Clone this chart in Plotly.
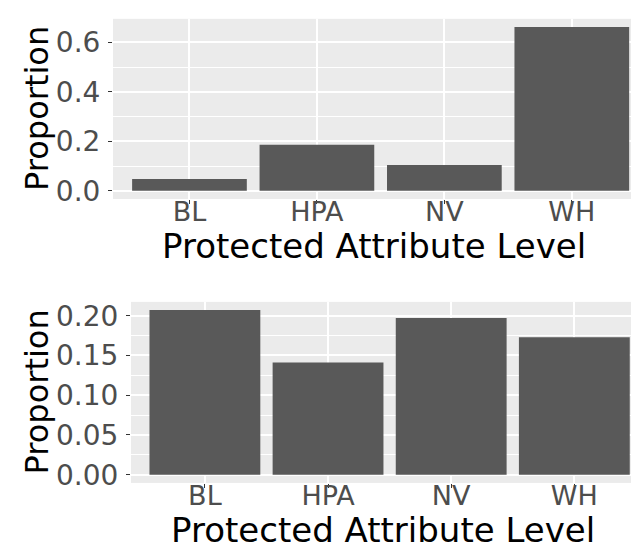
import plotly.graph_objects as go
from plotly.subplots import make_subplots

# Protected attribute levels
categories = ['BL', 'HPA', 'NV', 'WH']

# Proportions, top panel and bottom panel
top_values = [0.048, 0.186, 0.104, 0.662]
bottom_values = [0.207, 0.141, 0.197, 0.173]

x_title = 'Protected Attribute Level'
y_title = 'Proportion'

W, H = 639, 550
FONT = 'DejaVu Sans'
BAR_COLOR = '#595959'
PANEL_BG = '#EBEBEB'


def gg_range(values):
    # ggplot default: 5% expansion of the data span (which starts at 0)
    top = max(values)
    return [-0.05 * top, 1.05 * top]


fig = make_subplots(rows=2, cols=1)

fig.add_trace(go.Bar(x=categories, y=top_values, marker_color=BAR_COLOR,
                     marker_line_width=0, width=0.9), row=1, col=1)
fig.add_trace(go.Bar(x=categories, y=bottom_values, marker_color=BAR_COLOR,
                     marker_line_width=0, width=0.9), row=2, col=1)

# panel positions in pixels (left, top, bottom)
panels = [(105, 9.0, 192.5), (123, 297.3, 481.7)]

axis_common = dict(
    showgrid=True, gridcolor='white', gridwidth=1.5,
    ticks='outside', ticklen=4, tickwidth=1, tickcolor='#333333',
    tickfont=dict(family=FONT, size=27, color='#4D4D4D'),
    zeroline=False, showline=False, fixedrange=True,
)

for i, (left, top, bottom) in enumerate(panels, start=1):
    fig.update_xaxes(axis_common, row=i, col=1,
                     domain=[left / W, 1.0], range=[-0.6, 3.59],
                     ticklabelstandoff=-15)
    fig.update_yaxes(axis_common, row=i, col=1,
                     domain=[1 - bottom / H, 1 - top / H],
                     tickfont_size=28, ticklabelstandoff=2)

fig.update_yaxes(row=1, col=1, range=gg_range(top_values), tickvals=[0, 0.2, 0.4, 0.6],
                 tickformat='.1f',
                 minor=dict(tickvals=[0.1, 0.3, 0.5], showgrid=True,
                            gridcolor='white', gridwidth=0.7))
fig.update_yaxes(row=2, col=1, range=gg_range(bottom_values),
                 tickvals=[0, 0.05, 0.1, 0.15, 0.2], tickformat='.2f',
                 minor=dict(tickvals=[0.025, 0.075, 0.125, 0.175], showgrid=True,
                            gridcolor='white', gridwidth=0.7))

# axis titles as annotations so they sit where the original puts them
for left, top, bottom in panels:
    fig.add_annotation(text=x_title, xref='paper', yref='paper',
                       x=((left + W) / 2 - 6) / W, y=1 - (bottom + 48) / H,
                       xanchor='center', yanchor='middle', showarrow=False,
                       font=dict(family=FONT, size=34, color='black'))
    fig.add_annotation(text=y_title, xref='paper', yref='paper',
                       x=29 / W, y=1 - ((top + bottom) / 2) / H,
                       xanchor='center', yanchor='middle', showarrow=False,
                       textangle=-90,
                       font=dict(family=FONT, size=32, color='black'))

fig.update_layout(
    width=W, height=H,
    margin=dict(l=0, r=0, t=0, b=0),
    plot_bgcolor=PANEL_BG,
    paper_bgcolor='white',
    showlegend=False,
    bargap=0.1,
)

fig.write_html("out.html")
